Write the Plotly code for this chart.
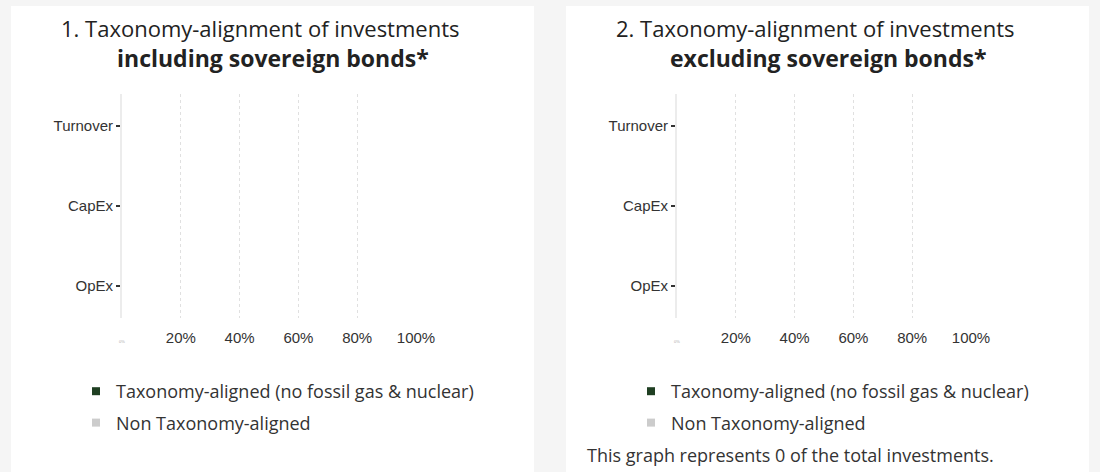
"""Two empty taxonomy-alignment bar panels, side by side."""

import plotly.graph_objects as go

CATEGORIES = ["OpEx", "CapEx", "Turnover"]
ALIGNED_INCL = [0, 0, 0]
NON_ALIGNED_INCL = [0, 0, 0]
ALIGNED_EXCL = [0, 0, 0]
NON_ALIGNED_EXCL = [0, 0, 0]
TICK_VALUES = [0, 0.2, 0.4, 0.6, 0.8, 1.0]
TICK_LABELS = ["<span style='font-size:4px;color:#aaa'>0%</span>", "20%", "40%", "60%", "80%", "100%"]
SERIES_NAMES = ["Taxonomy-aligned (no fossil gas & nuclear)", "Non Taxonomy-aligned"]
PANEL_TITLES = [
    ("1. Taxonomy-alignment of investments", "including sovereign bonds*"),
    ("2. Taxonomy-alignment of investments", "excluding sovereign bonds*"),
]
FOOTNOTE = "This graph represents 0 of the total investments."

GREEN = "#1f3f22"
GREY = "#cccccc"
W, H = 1100, 472
TEXT_FONT = "Open Sans"
AXIS_FONT = "Arial, Liberation Sans"


def px(x):
    return x / W


def py(y):
    return 1 - y / H


fig = go.Figure()

panels = [
    dict(dx=0, aligned=ALIGNED_INCL, non=NON_ALIGNED_INCL, xa="x", ya="y", leg="legend"),
    dict(dx=555, aligned=ALIGNED_EXCL, non=NON_ALIGNED_EXCL, xa="x2", ya="y2", leg="legend2"),
]

for i, p in enumerate(panels):
    for name, vals, color in zip(SERIES_NAMES, [p["aligned"], p["non"]], [GREEN, GREY]):
        fig.add_trace(go.Bar(
            x=vals, y=CATEGORIES, orientation="h", marker=dict(color=color, line_width=0),
            xaxis=p["xa"], yaxis=p["ya"], showlegend=False,
        ))
        # legend proxy with small square swatch
        fig.add_trace(go.Scatter(
            x=[None], y=[None], mode="markers", name=name,
            marker=dict(symbol="square", size=8, color=color),
            xaxis=p["xa"], yaxis=p["ya"], legend=p["leg"], legendgroup=name,
        ))

    dx = p["dx"]
    sfx = "" if i == 0 else "2"
    axis_x = dict(
        domain=[px(122 + dx), px(416 + dx)], range=[0, 1], anchor="y" + sfx,
        tickvals=TICK_VALUES, ticktext=TICK_LABELS, showgrid=True,
        gridcolor="#e0e0e0", griddash="dot", gridwidth=1, zeroline=False, showline=False,
        ticks="outside", ticklen=6, tickcolor="rgba(0,0,0,0)",
        tickfont=dict(family=AXIS_FONT, size=15, color="#333"), fixedrange=True,
    )
    axis_y = dict(
        domain=[py(318), py(94)], range=[-0.4, 2.4], type="category", anchor="x" + sfx,
        categoryorder="array", categoryarray=CATEGORIES,
        showgrid=False, zeroline=False, showline=True, linecolor="#ececec", linewidth=2,
        ticks="outside", ticklen=4, tickwidth=2, tickcolor="#333",
        tickfont=dict(family=AXIS_FONT, size=15, color="#333"), fixedrange=True,
    )
    fig.update_layout({"xaxis" + sfx: axis_x, "yaxis" + sfx: axis_y})

    # white card behind each panel
    fig.add_shape(type="rect", xref="paper", yref="paper", layer="below",
                  x0=px(11 + dx), x1=px(534 + dx), y0=-0.1, y1=py(6),
                  fillcolor="white", line_width=0)

    line1, line2 = PANEL_TITLES[i]
    fig.add_annotation(text=line1, xref="paper", yref="paper", x=px(260 + dx), y=py(28),
                       xanchor="center", yanchor="middle", showarrow=False,
                       font=dict(family=TEXT_FONT, size=22, color="#222"))
    fig.add_annotation(text="<b>" + line2 + "</b>", xref="paper", yref="paper",
                       x=px(273 + dx), y=py(58), xanchor="center", yanchor="middle",
                       showarrow=False, font=dict(family=TEXT_FONT, size=23, color="#222"))

    leg = dict(x=px(76 + dx), y=py(373), xanchor="left", yanchor="top",
               bgcolor="rgba(0,0,0,0)", tracegroupgap=5, itemclick=False,
               itemdoubleclick=False,
               font=dict(family=TEXT_FONT, size=18, color="#333"))
    fig.update_layout({p["leg"]: leg})

fig.add_annotation(text=FOOTNOTE, xref="paper", yref="paper", x=px(585), y=py(455),
                   xanchor="left", yanchor="middle", showarrow=False,
                   font=dict(family=TEXT_FONT, size=18, color="#333"))

fig.update_layout(
    width=W, height=H, margin=dict(l=0, r=0, t=0, b=0, autoexpand=False),
    paper_bgcolor="#f5f5f5", plot_bgcolor="rgba(0,0,0,0)",
    barmode="stack", bargap=0.3,
)

page_css = (
    "document.documentElement.style.margin='0';"
    "document.documentElement.style.overflow='hidden';"
    "document.body.style.margin='0';"
    "document.body.style.overflow='hidden';"
)
fig.write_html("out.html", post_script=page_css, config={"displayModeBar": False})
